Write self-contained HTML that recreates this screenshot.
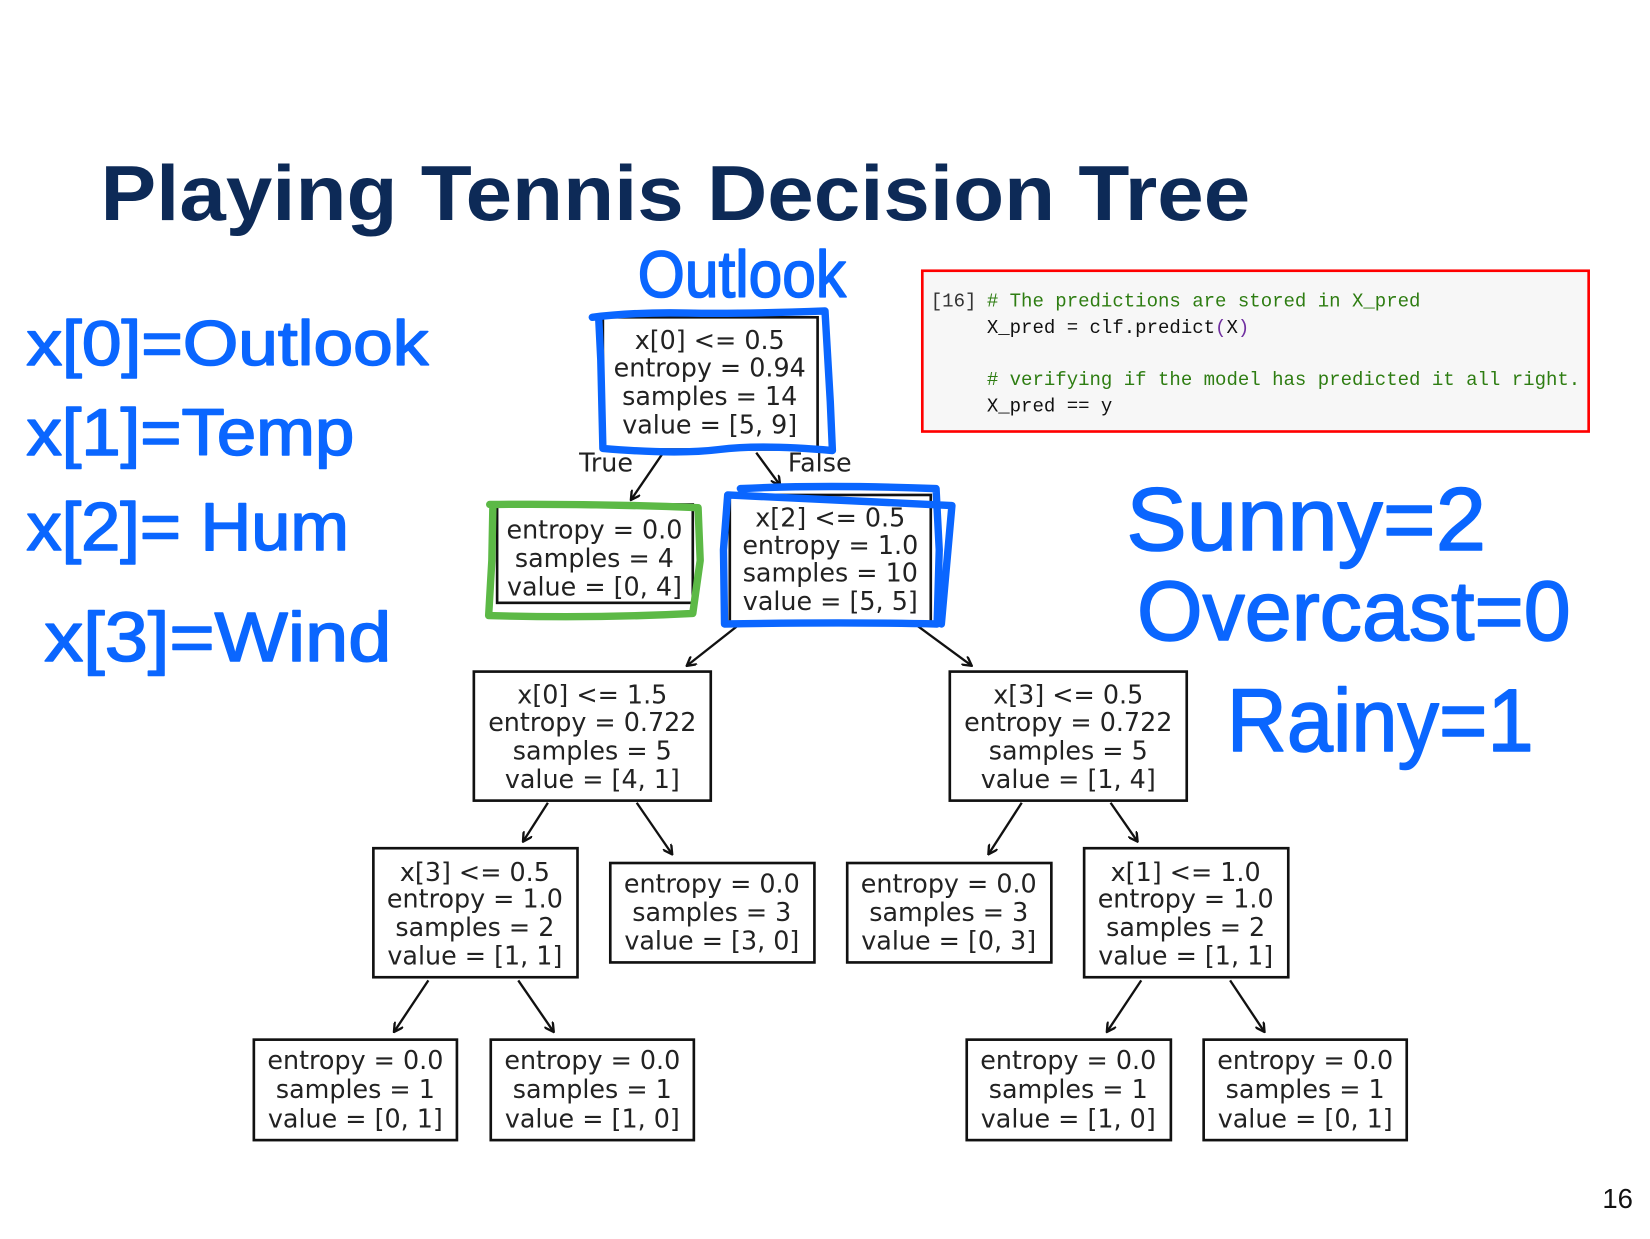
<!DOCTYPE html>
<html><head><meta charset="utf-8"><style>
html,body{margin:0;padding:0;background:#fff;}
svg{display:block}
.n{font-family:"DejaVu Sans","Liberation Sans",sans-serif;font-size:24px;fill:#222;text-anchor:middle}
.b{fill:#fff;stroke:#111;stroke-width:2.5}
.a{stroke:#111;stroke-width:2.2;fill:none;marker-end:url(#ar)}
.h{font-family:"Liberation Sans",sans-serif;fill:#0a66ff;stroke:#0a66ff;stroke-width:1.5;stroke-linejoin:round}
.c{font-family:"Liberation Mono","DejaVu Sans Mono",monospace;font-size:18px}
</style></head><body>
<svg width="1650" height="1239" viewBox="0 0 1560 1171.5" preserveAspectRatio="none" xmlns="http://www.w3.org/2000/svg">
<defs><marker id="ar" markerWidth="10" markerHeight="10" refX="8" refY="5" orient="auto" markerUnits="userSpaceOnUse"><path d="M0,0 L9,5 L0,10" fill="none" stroke="#111" stroke-width="2.2"/></marker></defs>
<text x="95" y="208" font-family="Liberation Sans,sans-serif" font-weight="bold" font-size="74" fill="#0d2a57" textLength="1087" lengthAdjust="spacingAndGlyphs">Playing Tennis Decision Tree</text>

<rect x="872" y="256" width="630" height="152" fill="#f7f7f7" stroke="#f00" stroke-width="2.5"/>
<text class="c" x="880" y="290" fill="#333">[16]</text>
<text class="c" x="933" y="290" fill="#2e7d12"># The predictions are stored in X_pred</text>
<text class="c" x="933" y="315" fill="#111">X_pred = clf.predict<tspan fill="#7030a0">(</tspan>X<tspan fill="#7030a0">)</tspan></text>
<text class="c" x="933" y="364" fill="#2e7d12"># verifying if the model has predicted it all right.</text>
<text class="c" x="933" y="389" fill="#111">X_pred == y</text>

<rect class="b" x="570" y="300" width="203" height="125"/>
<text class="n" x="671" y="330">x[0] &lt;= 0.5</text><text class="n" x="671" y="356">entropy = 0.94</text><text class="n" x="671" y="383">samples = 14</text><text class="n" x="671" y="410">value = [5, 9]</text>
<rect class="b" x="470" y="477" width="185" height="93"/>
<text class="n" x="562" y="509">entropy = 0.0</text><text class="n" x="562" y="536">samples = 4</text><text class="n" x="562" y="563">value = [0, 4]</text>
<rect class="b" x="690" y="468" width="190" height="120"/>
<text class="n" x="785" y="498">x[2] &lt;= 0.5</text><text class="n" x="785" y="524">entropy = 1.0</text><text class="n" x="785" y="550">samples = 10</text><text class="n" x="785" y="577">value = [5, 5]</text>
<rect class="b" x="448" y="635" width="224" height="122"/>
<text class="n" x="560" y="665">x[0] &lt;= 1.5</text><text class="n" x="560" y="691">entropy = 0.722</text><text class="n" x="560" y="718">samples = 5</text><text class="n" x="560" y="745">value = [4, 1]</text>
<rect class="b" x="898" y="635" width="224" height="122"/>
<text class="n" x="1010" y="665">x[3] &lt;= 0.5</text><text class="n" x="1010" y="691">entropy = 0.722</text><text class="n" x="1010" y="718">samples = 5</text><text class="n" x="1010" y="745">value = [1, 4]</text>
<rect class="b" x="353" y="802" width="193" height="122"/>
<text class="n" x="449" y="833">x[3] &lt;= 0.5</text><text class="n" x="449" y="858">entropy = 1.0</text><text class="n" x="449" y="885">samples = 2</text><text class="n" x="449" y="912">value = [1, 1]</text>
<rect class="b" x="577" y="816" width="193" height="94"/>
<text class="n" x="673" y="844">entropy = 0.0</text><text class="n" x="673" y="871">samples = 3</text><text class="n" x="673" y="898">value = [3, 0]</text>
<rect class="b" x="801" y="816" width="193" height="94"/>
<text class="n" x="897" y="844">entropy = 0.0</text><text class="n" x="897" y="871">samples = 3</text><text class="n" x="897" y="898">value = [0, 3]</text>
<rect class="b" x="1025" y="802" width="193" height="122"/>
<text class="n" x="1121" y="833">x[1] &lt;= 1.0</text><text class="n" x="1121" y="858">entropy = 1.0</text><text class="n" x="1121" y="885">samples = 2</text><text class="n" x="1121" y="912">value = [1, 1]</text>
<rect class="b" x="240" y="983" width="192" height="95"/>
<text class="n" x="336" y="1011">entropy = 0.0</text><text class="n" x="336" y="1038">samples = 1</text><text class="n" x="336" y="1066">value = [0, 1]</text>
<rect class="b" x="464" y="983" width="192" height="95"/>
<text class="n" x="560" y="1011">entropy = 0.0</text><text class="n" x="560" y="1038">samples = 1</text><text class="n" x="560" y="1066">value = [1, 0]</text>
<rect class="b" x="914" y="983" width="193" height="95"/>
<text class="n" x="1010" y="1011">entropy = 0.0</text><text class="n" x="1010" y="1038">samples = 1</text><text class="n" x="1010" y="1066">value = [1, 0]</text>
<rect class="b" x="1138" y="983" width="192" height="95"/>
<text class="n" x="1234" y="1011">entropy = 0.0</text><text class="n" x="1234" y="1038">samples = 1</text><text class="n" x="1234" y="1066">value = [0, 1]</text>

<line class="a" x1="627" y1="428" x2="597" y2="472"/>
<line class="a" x1="715" y1="428" x2="737" y2="458"/>
<line class="a" x1="697" y1="592" x2="650" y2="629"/>
<line class="a" x1="865" y1="590" x2="918" y2="629"/>
<line class="a" x1="518" y1="759" x2="495" y2="795"/>
<line class="a" x1="602" y1="759" x2="635" y2="807"/>
<line class="a" x1="966" y1="759" x2="935" y2="807"/>
<line class="a" x1="1050" y1="759" x2="1075" y2="795"/>
<line class="a" x1="405" y1="927" x2="373" y2="975"/>
<line class="a" x1="490" y1="927" x2="523" y2="975"/>
<line class="a" x1="1079" y1="927" x2="1047" y2="975"/>
<line class="a" x1="1163" y1="927" x2="1195" y2="975"/>
<text class="n" x="573" y="446">True</text><text class="n" x="775" y="446">False</text>

<path d="M560,300 Q600,295 650,296 T780,294 L785,380 L787,426 Q720,420 680,425 T570,424 L568,340 L566,300" fill="none" stroke="#0a66ff" stroke-width="7" stroke-linecap="round" stroke-linejoin="round"/>
<path d="M700,462 Q780,458 885,462 L888,520 L886,590 Q800,588 685,590 L684,520 L688,468 L900,478 L890,590" fill="none" stroke="#0a66ff" stroke-width="7" stroke-linecap="round" stroke-linejoin="round"/>
<path d="M463,477 Q560,476 660,480 L662,530 L655,580 Q560,585 462,582 L465,530 L466,478" fill="none" stroke="#5cb946" stroke-width="7" stroke-linecap="round" stroke-linejoin="round"/>

<text class="h" x="603" y="281" font-size="62" textLength="197" lengthAdjust="spacingAndGlyphs">Outlook</text>
<text class="h" x="25" y="345" font-size="60" textLength="380" lengthAdjust="spacingAndGlyphs">x[0]=Outlook</text>
<text class="h" x="25" y="430" font-size="62" textLength="310" lengthAdjust="spacingAndGlyphs">x[1]=Temp</text>
<text class="h" x="25" y="520" font-size="64" textLength="305" lengthAdjust="spacingAndGlyphs">x[2]= Hum</text>
<text class="h" x="42" y="625" font-size="66" textLength="328" lengthAdjust="spacingAndGlyphs">x[3]=Wind</text>
<text class="h" x="1065" y="520" font-size="84" textLength="340" lengthAdjust="spacingAndGlyphs">Sunny=2</text>
<text class="h" x="1075" y="605" font-size="80" textLength="410" lengthAdjust="spacingAndGlyphs">Overcast=0</text>
<text class="h" x="1160" y="710" font-size="84" textLength="290" lengthAdjust="spacingAndGlyphs">Rainy=1</text>

<text x="1515" y="1142" font-family="Liberation Sans,sans-serif" font-size="26" fill="#111">16</text>
</svg>
</body></html>
